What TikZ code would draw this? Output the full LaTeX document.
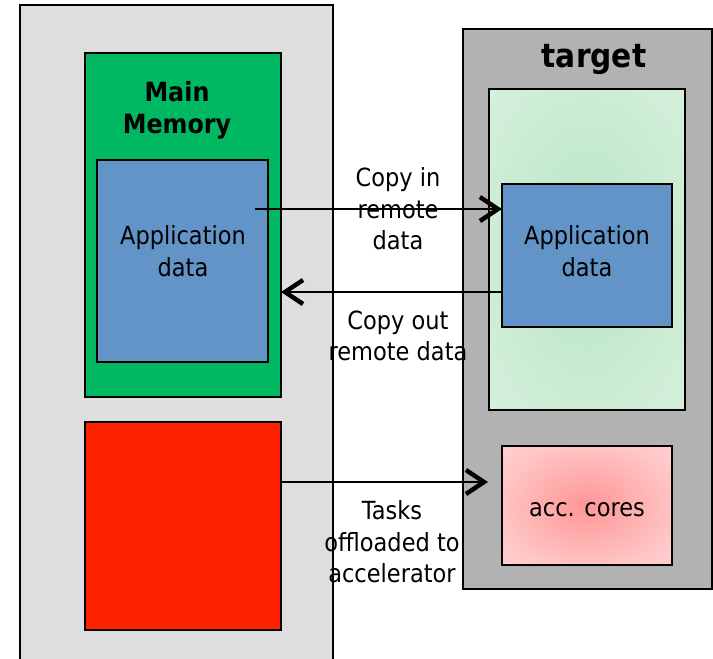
\documentclass[tikz,border=0pt]{standalone}
\usepackage{fontspec}
\setmainfont{DejaVu Sans}[FakeStretch=0.9]
\usetikzlibrary{arrows.meta}
\definecolor{lgray}{RGB}{222,222,222}
\definecolor{dgray}{RGB}{178,178,178}
\definecolor{mgreen}{RGB}{0,184,98}
\definecolor{mblue}{RGB}{98,148,200}
\definecolor{mred}{RGB}{255,34,0}
\definecolor{gin}{RGB}{182,229,194}
\definecolor{gmid}{RGB}{208,238,215}
\definecolor{gout}{RGB}{232,246,235}
\definecolor{pin}{RGB}{255,150,150}
\definecolor{pmid}{RGB}{255,200,200}
\definecolor{pout}{RGB}{255,232,232}
\pgfdeclareradialshading{gshade}{\pgfpoint{0bp}{0bp}}{color(0bp)=(gin); color(28bp)=(gmid); color(60bp)=(gout); color(71bp)=(gout)}
\pgfdeclareradialshading{pshade}{\pgfpoint{0bp}{0bp}}{color(0bp)=(pin); color(28bp)=(pmid); color(60bp)=(pout); color(71bp)=(pout)}
\begin{document}
\begin{tikzpicture}[x=1pt,y=-1pt,
  box/.style={draw=black,line width=1.6pt,inner sep=0pt,outer sep=0pt,anchor=north west},
  lbl/.style={align=center,font=\fontsize{25}{31.5}\selectfont},
  ttl/.style={align=center,font=\bfseries\fontsize{26.5}{32}\selectfont},
  arr/.style={line width=1.4pt,-{Straight Barb[length=18pt,width=24pt,line width=4.5pt]}}]
\useasboundingbox (0,0) rectangle (713,659);
\clip (0,0) rectangle (713,659);
\fill[white] (0,0) rectangle (713,659);
% host side
\node[box,fill=lgray,minimum width=313pt,minimum height=680pt] (host) at (20,5) {};
\node[box,fill=mgreen,minimum width=196pt,minimum height=344pt] (gm) at (85,53) {};
\node[ttl] (mmt) at (177,110) {Main\\Memory};
\node[box,fill=mblue,minimum width=171pt,minimum height=202pt] (bl) at (97,160) {};
\node[lbl] (blt) at (183,251) {Application\\data};
\node[box,fill=mred,minimum width=196pt,minimum height=208pt] (red) at (85,422) {};
% target side
\node[box,fill=dgray,minimum width=249pt,minimum height=560pt] (tgt) at (463,29) {};
\node[align=center,font=\bfseries\fontsize{33}{38}\selectfont] (tgtt) at (594,59) {target};
\node[box,shading=gshade,minimum width=196pt,minimum height=321pt] (lg) at (489,89) {};
\node[box,fill=mblue,minimum width=170pt,minimum height=143pt] (br) at (502,184) {};
\node[lbl] (brt) at (587,251) {Application\\data};
\node[box,shading=pshade,minimum width=170pt,minimum height=119pt] (pk) at (502,446) {};
\node[lbl] (pkt) at (587,510) {acc. cores};
% labels
\node[lbl] (l1) at (398,209) {Copy in\\remote\\data};
\node[lbl] (l2) at (398,336) {Copy out\\remote data};
\node[lbl] (l3) at (392,542) {Tasks\\offloaded to\\accelerator};
% arrows
\coordinate (c1) at (255,209);
\draw[arr] (c1) -- (c1 -| br.west);
\coordinate (c2) at (502,292);
\draw[arr] (c2) -- (c2 -| gm.east);
\coordinate (c3) at (281,482);
\draw[arr,shorten >=14pt] (c3) -- (c3 -| pk.west);
\end{tikzpicture}
\end{document}
